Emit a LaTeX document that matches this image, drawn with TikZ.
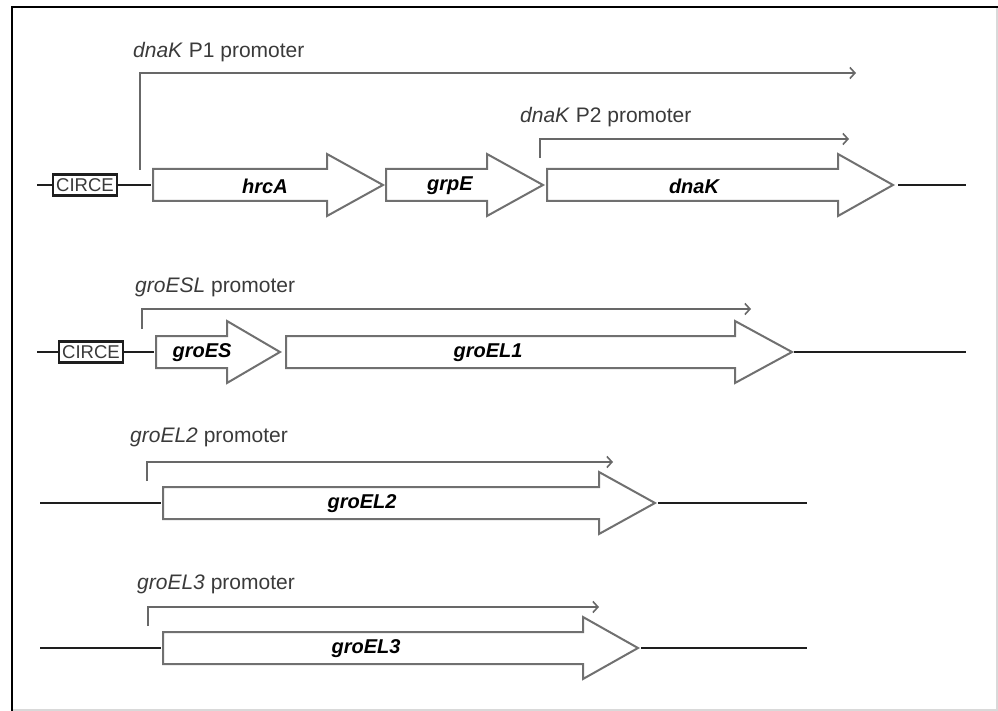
\documentclass[tikz,border=0pt]{standalone}
\usepackage{fontspec}
\setmainfont{Liberation Sans}
\usetikzlibrary{arrows.meta}

\definecolor{geneline}{HTML}{707070}
\definecolor{promline}{HTML}{686868}
\definecolor{promtext}{HTML}{3A3A3A}
\definecolor{dnaline}{HTML}{1E1E1E}

% gene arrow: body start, head start, tip, centre line
\newcommand{\genearrow}[4]{%
  \draw[genebox] (#1,#4-16) -- (#2,#4-16) -- (#2,#4-31) -- (#3,#4)
    -- (#2,#4+31) -- (#2,#4+16) -- (#1,#4+16) -- cycle;}

\begin{document}
\begin{tikzpicture}[x=1pt, y=-1pt,
  genebox/.style={draw=geneline, line width=2pt, fill=white, line join=miter},
  dna/.style={draw=dnaline, line width=2.8pt},
  promoter/.style={draw=promline, line width=1.6pt, -{Straight Barb[length=5pt, width=11pt]}},
  promlabel/.style={anchor=west, inner sep=0pt, text=promtext, font=\fontsize{21}{24}\selectfont},
  genename/.style={inner sep=0pt, font=\fontsize{20}{22}\selectfont\bfseries\itshape},
  circebox/.style={draw=dnaline, line width=2.4pt, fill=white, minimum width=64pt, minimum height=21pt,
    inner sep=0pt, text=promtext, font=\fontsize{18.5}{20}\selectfont}]
\useasboundingbox (0,0) rectangle (998,711);

% frame
\draw[black!15, line width=1.5pt] (997,7) -- (997,710) -- (12,710);
\draw[black, line width=2.5pt] (12,711) -- (12,7) -- (998,7);

% dnaK operon
\node[circebox] (circe1) at (85,185) {CIRCE};
\draw[dna] (37,185) -- (circe1.west);
\draw[dna] (circe1.east) -- (151,185);
\draw[dna] (898,185) -- (966,185);
\genearrow{153}{327}{383}{185}
\genearrow{386}{487}{543}{185}
\genearrow{547}{838}{893}{185}
\node[genename] (hrcA) at (265,186) {hrcA};
\node[genename] (grpE) at (450,186) {grpE};
\node[genename] (dnaK) at (694,186) {dnaK};

\draw[promoter] (140,170) |- (856,73);
\node[promlabel] (p1) at (133,52) {\textit{dnaK} P1 promoter};
\draw[promoter] (540,158) |- (849,139);
\node[promlabel] (p2) at (520,117) {\textit{dnaK} P2 promoter};

% groESL operon
\node[circebox] (circe2) at (91,352) {CIRCE};
\draw[dna] (37,352) -- (circe2.west);
\draw[dna] (circe2.east) -- (154,352);
\draw[dna] (794,352) -- (966,352);
\genearrow{156}{227}{280}{352}
\genearrow{286}{735}{792}{352}
\node[genename] (groES) at (202,353) {groES};
\node[genename] (groEL1) at (488,353) {groEL1};

\draw[promoter] (142,329) |- (751,309);
\node[promlabel] (p3) at (135,287) {\textit{groESL} promoter};

% groEL2
\draw[dna] (40,503) -- (161,503);
\draw[dna] (658,503) -- (807,503);
\genearrow{163}{599}{655}{503}
\node[genename] (groEL2) at (362,504) {groEL2};
\draw[promoter] (147,481) |- (613,462);
\node[promlabel] (p4) at (130,437) {\textit{groEL2} promoter};

% groEL3
\draw[dna] (40,648) -- (161,648);
\draw[dna] (641,648) -- (807,648);
\genearrow{163}{583}{638}{648}
\node[genename] (groEL3) at (366,649) {groEL3};
\draw[promoter] (148,626) |- (599,607);
\node[promlabel] (p5) at (137,584) {\textit{groEL3} promoter};

\end{tikzpicture}
\end{document}
